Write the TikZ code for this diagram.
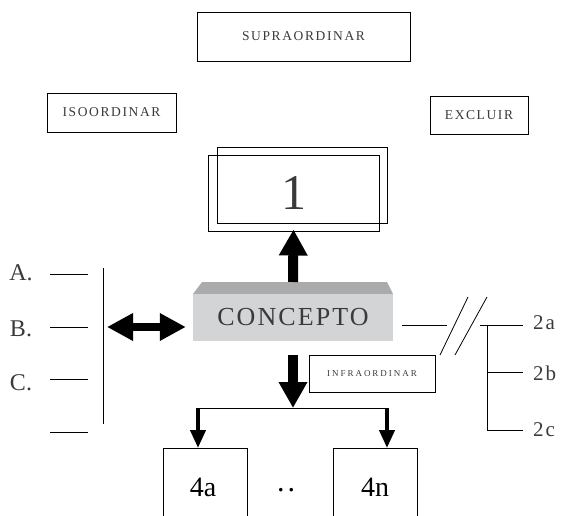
\documentclass[tikz,border=0pt]{standalone}
\usepackage{fontspec}
\setmainfont{Liberation Serif}
\newfontfamily\spaced[LetterSpace=12]{Liberation Serif}
\usetikzlibrary{arrows.meta}
\definecolor{txtgray}{HTML}{3A3A3A}
\definecolor{topgray}{HTML}{A9ABAD}
\definecolor{frontgray}{HTML}{D3D4D5}
\tikzset{
  labelbox/.style={draw,line width=0.9pt,inner sep=0,text=txtgray},
  sidelabel/.style={text=txtgray,inner sep=0,font=\fontsize{24}{26}\selectfont},
  branchlabel/.style={text=txtgray,inner sep=0,anchor=west,font=\fontsize{21}{23}\selectfont},
  leaflabel/.style={font=\fontsize{28}{30}\selectfont},
  fatarrow/.style={line width=10pt,-{Triangle[length=26pt,width=27pt]}},
  fatboth/.style={line width=8pt,{Triangle[length=26pt,width=26pt]}-{Triangle[length=26pt,width=26pt]}},
  thinarrow/.style={line width=4pt,-{Triangle[length=18pt,width=15pt]}},
  rule/.style={line width=0.8pt}
}
\begin{document}
\begin{tikzpicture}[x=1pt,y=-1pt]
  \useasboundingbox (0,0) rectangle (565,516);
  \clip (0,0) rectangle (565,516);
  % Boxes above the concept
  \node[labelbox,minimum width=213pt,minimum height=49pt] (supra) at (303.5,36.5)
        {\spaced\fontsize{13.5}{15}\selectfont SUPRAORDINAR};
  \node[labelbox,minimum width=129pt,minimum height=39pt] (iso)   at (111.5,112.5)
        {\spaced\fontsize{13.5}{15}\selectfont ISOORDINAR};
  \node[labelbox,minimum width=98pt,minimum height=38pt]  (excl)  at (479,115)
        {\spaced\fontsize{13.5}{15}\selectfont EXCLUIR};
  \draw[rule] (217,147) rectangle (387,223);
  \node[labelbox,minimum width=171pt,minimum height=76pt] (one)   at (293.5,193)
        {\fontsize{50}{50}\selectfont 1};
  % The concept itself
  \fill[topgray] (202,282) -- (387,282) -- (393,294) -- (193,294) -- cycle;
  \node[fill=frontgray,minimum width=200pt,minimum height=47pt,inner sep=0,text=txtgray] (concept) at (293,317.5)
        {\spaced\addfontfeature{LetterSpace=8}\fontsize{26}{28}\selectfont CONCEPTO};
  \coordinate (ctop) at (293,282);
  \draw[fatarrow] (ctop) -- ([yshift=2pt]one.south);
  % Left-hand side part of the Figure
  \node[sidelabel] (A) at (21,273) {A.};
  \node[sidelabel] (B) at (21,329) {B.};
  \node[sidelabel] (C) at (21,383) {C.};
  \draw[rule] (50,274) -- (88,274);
  \draw[rule] (50,327) -- (88,327);
  \draw[rule] (50,379) -- (88,379);
  \draw[rule] (50,432) -- (88,432);
  \coordinate (bar) at (103,268);
  \draw[rule] (bar) -- (103,424);
  \draw[fatboth] (107,327) -- ([xshift=-7pt,yshift=-9.5pt]concept.west);
  % Right-hand side part of the Figure
  \draw[rule] ([xshift=9pt,yshift=-7.5pt]concept.east) -- (447,325);
  \draw[rule] (440,355) -- (468,297);
  \draw[rule] (455,355) -- (487,297);
  \coordinate (fork) at (487,325);
  \draw[rule] (480,325) -- (523,325);
  \draw[rule] (fork) |- (523,430);
  \draw[rule] (487,372) -- (523,372);
  \node[branchlabel] (2a) at (533,323) {2\hspace{2pt}a};
  \node[branchlabel] (2b) at (533,373) {2\hspace{2pt}b};
  \node[branchlabel] (2c) at (533,430) {2\hspace{2pt}c};
  % Below the concept
  \node[labelbox,minimum width=126pt,minimum height=37pt] (infra) at (372,373.5)
        {\spaced\addfontfeature{LetterSpace=22}\fontsize{9}{11}\selectfont INFRAORDINAR};
  \coordinate (split) at (293,408);
  \draw[fatarrow] (293,355) -- (split);
  \draw[rule] (198,408) -- (387,408);
  \draw[rule] (163,560) |- (247,448) -- (247,560);
  \draw[rule] (333,560) |- (417,448) -- (417,560);
  \node[leaflabel] (4a) at (203,487) {4a};
  \node[leaflabel] (4n) at (375,487) {4n};
  \node[font=\fontsize{30}{32}\selectfont] (dots) at (286,490) {.\hspace{3pt}.};
  \draw[thinarrow] (198,408) -- (198,448);
  \draw[thinarrow] (387,408) -- (387,448);
\end{tikzpicture}
\end{document}
